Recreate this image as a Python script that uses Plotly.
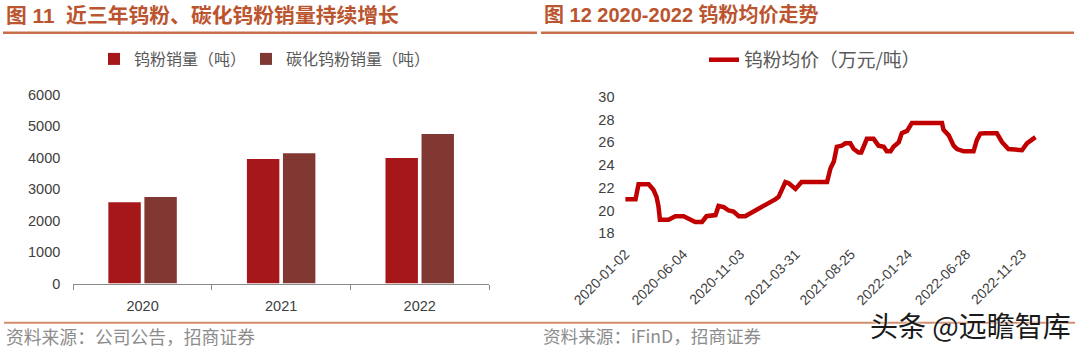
import plotly.graph_objects as go

W, H = 1080, 348


def px(x):
    return x / W


def py(y):
    return 1 - y / H


# ---------------- data ----------------
years = ["2020", "2021", "2022"]
tungsten_powder_sales = [2580, 3960, 3990]      # 钨粉销量（吨）
tungsten_carbide_sales = [2750, 4140, 4750]     # 碳化钨粉销量（吨）
bar_y_ticks = [0, 1000, 2000, 3000, 4000, 5000, 6000]

price_dates = [
    "2020-01-02", "2020-01-29", "2020-02-06", "2020-03-04", "2020-03-17", "2020-03-25",
    "2020-03-30", "2020-04-03", "2020-04-26", "2020-05-14", "2020-06-05", "2020-06-19",
    "2020-07-06", "2020-07-24", "2020-08-05", "2020-08-29", "2020-09-06", "2020-09-20",
    "2020-10-03", "2020-10-16", "2020-10-30", "2020-11-16", "2020-12-03", "2020-12-22",
    "2021-01-04", "2021-01-22", "2021-02-05", "2021-02-13", "2021-03-03", "2021-03-12",
    "2021-03-30", "2021-04-15", "2021-06-22", "2021-07-01", "2021-07-10", "2021-07-18",
    "2021-07-31", "2021-08-10", "2021-08-23", "2021-09-01", "2021-09-14", "2021-09-21",
    "2021-10-06", "2021-10-24", "2021-11-06", "2021-11-20", "2021-11-28", "2021-12-08",
    "2021-12-16", "2021-12-30", "2022-01-07", "2022-01-21", "2022-02-03", "2022-04-24",
    "2022-04-28", "2022-05-12", "2022-05-25", "2022-06-03", "2022-06-21", "2022-07-17",
    "2022-07-26", "2022-08-04", "2022-08-17", "2022-09-17", "2022-10-01", "2022-10-18",
    "2022-11-23", "2022-12-06", "2022-12-19", "2022-12-29",
]
price_values = [
    21.0, 21.0, 22.3, 22.3, 21.8, 21.2,
    20.4, 19.2, 19.2, 19.5, 19.5, 19.3,
    19.0, 19.0, 19.5, 19.6, 20.4, 20.3,
    20.0, 19.9, 19.5, 19.5, 19.8, 20.2,
    20.4, 20.7, 21.0, 21.2, 22.5, 22.4,
    21.9, 22.5, 22.5, 23.7, 24.3, 25.6,
    25.7, 25.9, 25.9, 25.4, 25.1, 25.1,
    26.3, 26.3, 25.7, 25.6, 25.2, 25.2,
    25.6, 26.0, 26.8, 27.0, 27.7, 27.7,
    27.1, 26.6, 25.7, 25.4, 25.2, 25.2,
    26.2, 26.75, 26.8, 26.8, 26.0, 25.4,
    25.3, 25.9, 26.2, 26.45,
]
price_tick_labels = [
    "2020-01-02", "2020-06-04", "2020-11-03", "2021-03-31",
    "2021-08-25", "2022-01-24", "2022-06-28", "2022-11-23",
]
price_y_ticks = [18, 20, 22, 24, 26, 28, 30]

# ---------------- styles ----------------
RED = "#A51718"
BROWN = "#813833"
LINE_RED = "#C00000"
TITLE_COLOR = "#BA5530"
RULE_COLOR = "#C96E4B"
TICK_COLOR = "#404040"
FOOT_COLOR = "#8C8C8C"
NUM_FONT = "Liberation Sans, Arial, Noto Sans CJK SC, sans-serif"
CJK_FONT = "Noto Sans CJK SC, Liberation Sans, sans-serif"

fig = go.Figure()

fig.add_trace(go.Bar(
    x=years, y=tungsten_powder_sales, name="钨粉销量（吨）",
    marker=dict(color=RED, line=dict(width=0)),
    xaxis="x", yaxis="y", legend="legend",
))
fig.add_trace(go.Bar(
    x=years, y=tungsten_carbide_sales, name="碳化钨粉销量（吨）",
    marker=dict(color=BROWN, line=dict(width=0)),
    xaxis="x", yaxis="y", legend="legend3",
))
fig.add_trace(go.Scatter(
    x=price_dates, y=price_values, name="钨粉均价（万元/吨）", mode="lines",
    line=dict(color=LINE_RED, width=4.5),
    xaxis="x2", yaxis="y2", legend="legend2",
))

tickfont = dict(family=NUM_FONT, size=14.5, color=TICK_COLOR)
legend_common = dict(
    orientation="h", xanchor="left", yanchor="middle",
    bgcolor="rgba(0,0,0,0)", itemclick=False, itemdoubleclick=False,
)

fig.update_layout(
    width=W, height=H, autosize=False,
    margin=dict(l=0, r=0, t=0, b=0, pad=0, autoexpand=False),
    paper_bgcolor="white", plot_bgcolor="white",
    barmode="group", bargap=0.48, bargroupgap=0.1,
    font=dict(family=CJK_FONT),
    xaxis=dict(
        domain=[px(73.3), px(489)], anchor="y", type="category", automargin=False,
        showline=True, linecolor="#8A8A8A", linewidth=1,
        ticks="outside", tickson="boundaries", ticklen=5, tickcolor="#8A8A8A",
        showgrid=False, tickfont=tickfont, ticklabelstandoff=9,
    ),
    yaxis=dict(
        domain=[py(283.5), py(94.8)], anchor="x", range=[0, 6000], automargin=False,
        tickvals=bar_y_ticks, showgrid=False, zeroline=False, showline=False,
        tickfont=tickfont, ticklabelstandoff=12,
    ),
    xaxis2=dict(
        domain=[px(620.5), px(1040)], anchor="y2", type="date", automargin=False,
        range=["2019-12-20", "2023-01-10"],
        tickvals=price_tick_labels, ticktext=price_tick_labels, tickangle=-45,
        showgrid=False, zeroline=False, showline=False, ticks="",
        tickfont=dict(family=NUM_FONT, size=14, color=TICK_COLOR), ticklabelstandoff=9,
    ),
    yaxis2=dict(
        domain=[py(233.3), py(96.7)], anchor="x2", range=[18, 30], automargin=False,
        tickvals=price_y_ticks, showgrid=False, zeroline=False, showline=False,
        tickfont=tickfont, ticklabelstandoff=5,
    ),
    legend=dict(legend_common, x=px(94), y=py(59),
                font=dict(family=CJK_FONT, size=16, color="#595959")),
    legend3=dict(legend_common, x=px(246), y=py(59),
                 font=dict(family=CJK_FONT, size=16, color="#595959")),
    legend2=dict(legend_common, x=px(704), y=py(60),
                 font=dict(family=CJK_FONT, size=18.8, color="#595959")),
    showlegend=True,
)

annotations = [
    dict(text="<b>图 11\u00a0\u00a0近三年钨粉、碳化钨粉销量持续增长</b>",
         x=px(4), y=py(15.5), xanchor="left", yanchor="middle",
         font=dict(family=NUM_FONT, size=20.8, color=TITLE_COLOR)),
    dict(text="<b>图 12 2020-2022 钨粉均价走势</b>",
         x=px(541.5), y=py(15.5), xanchor="left", yanchor="middle",
         font=dict(family=NUM_FONT, size=20, color=TITLE_COLOR)),
    dict(text="资料来源：公司公告，招商证券",
         x=px(4), y=py(335.5), xanchor="left", yanchor="middle",
         font=dict(family=CJK_FONT, size=17.8, color=FOOT_COLOR)),
    dict(text="资料来源：iFinD，招商证券",
         x=px(541), y=py(335.5), xanchor="left", yanchor="middle",
         font=dict(family=CJK_FONT, size=17.6, color=FOOT_COLOR)),
    dict(text="头条 @远瞻智库",
         x=px(868), y=py(325), xanchor="left", yanchor="middle",
         font=dict(family=CJK_FONT, size=28, color="#1A1A1A", shadow="0px 0px 3px white")),
]
for a in annotations:
    a.update(xref="paper", yref="paper", showarrow=False)
fig.update_layout(annotations=annotations)

shapes = [
    dict(type="line", x0=px(3), x1=px(537), y0=py(32.7), y1=py(32.7),
         line=dict(color=RULE_COLOR, width=2.5)),
    dict(type="line", x0=px(541), x1=px(1074), y0=py(32.7), y1=py(32.7),
         line=dict(color=RULE_COLOR, width=2.5)),
    dict(type="line", x0=px(4), x1=px(1075), y0=py(322.8), y1=py(322.8),
         line=dict(color="#D38C6C", width=2)),
]
for s in shapes:
    s.update(xref="paper", yref="paper", layer="below")
fig.update_layout(shapes=shapes)

fig.write_html("out.html")
